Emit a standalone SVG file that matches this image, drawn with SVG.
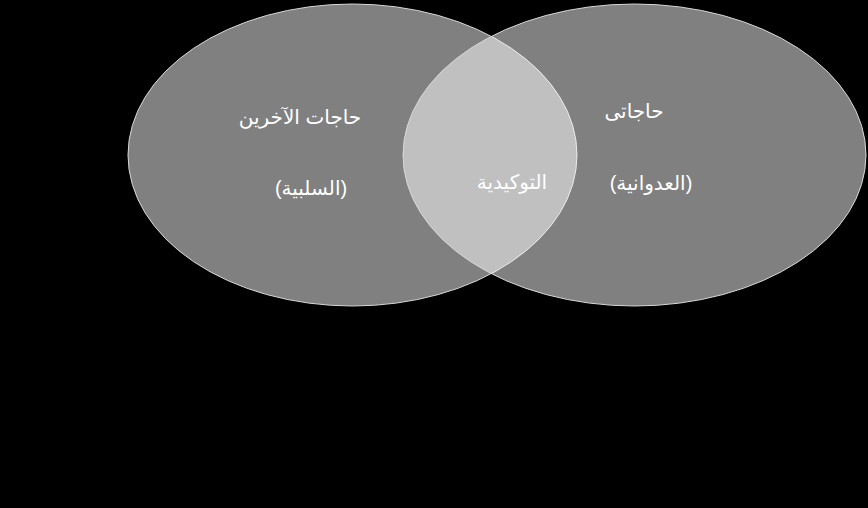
<svg xmlns="http://www.w3.org/2000/svg" width="868" height="508" viewBox="0 0 868 508">
<style>
.c{fill:#ffffff;fill-opacity:0.5;stroke:#d8d8d8;stroke-width:1}
.t{fill:#ffffff;font-family:"Liberation Sans","DejaVu Sans",sans-serif;font-size:20px;text-anchor:middle}
</style>
<rect width="868" height="508" fill="#000000"/>
<g id="left-set">
<ellipse class="c" cx="352.5" cy="155" rx="224.5" ry="151"/>
<text class="t" x="300" y="124">حاجات الآخرين</text>
<text class="t" x="311" y="195">(السلبية)</text>
</g>
<g id="right-set">
<ellipse class="c" cx="634.5" cy="155" rx="231.5" ry="151"/>
<text class="t" x="634" y="118">حاجاتى</text>
<text class="t" x="651" y="190">(العدوانية)</text>
</g>
<g id="overlap">
<text class="t" x="512" y="189">التوكيدية</text>
</g>
<g id="connectors"/>
</svg>
